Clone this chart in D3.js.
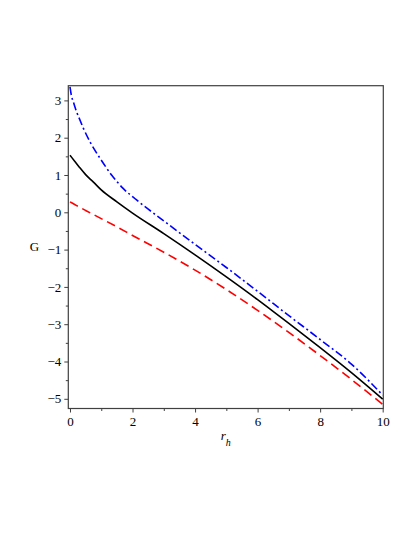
<!DOCTYPE html>
<html>
<head>
<meta charset="utf-8">
<script src="https://cdn.jsdelivr.net/npm/d3@7"></script>
<style>
  html, body { margin: 0; padding: 0; background: #fff; }
  svg { display: block; }
  text { font-family: "Liberation Serif", "Times New Roman", Times, serif; fill: #000; }
</style>
</head>
<body>
<svg id="chart" width="415" height="537"></svg>
<script>
// ---- data ----
const blueRh = [0, 0.05, 0.1, 0.2, 0.3, 0.43, 0.64, 0.96, 1.33, 1.7, 2.13, 3, 4, 5, 6, 7, 8, 9, 10];
const blueG  = [3.36, 3.11, 2.98, 2.72, 2.51, 2.25, 1.89, 1.45, 1.00, 0.64, 0.33, -0.23, -0.86, -1.48, -2.12, -2.77, -3.41, -4.07, -4.90];
const rh     = [0, 0.15, 0.3, 0.5, 0.75, 1, 1.5, 2, 3, 4, 5, 6, 7, 8, 9, 10];
const blackG = [1.53, 1.37, 1.21, 1.01, 0.81, 0.60, 0.28, -0.02, -0.57, -1.14, -1.73, -2.34, -2.98, -3.63, -4.30, -5.01];
const redG   = [0.28, 0.21, 0.14, 0.05, -0.06, -0.17, -0.39, -0.62, -1.07, -1.55, -2.07, -2.63, -3.22, -3.84, -4.48, -5.15];
const xMajor = [0, 2, 4, 6, 8, 10];
const xMinor = [1, 3, 5, 7, 9];
const yMajor = [-5, -4, -3, -2, -1, 0, 1, 2, 3];
const yMinor = [-4.5, -3.5, -2.5, -1.5, -0.5, 0.5, 1.5, 2.5];

const svg = d3.select("#chart");
const L = 68.3, R = 383.3, T = 85.7, B = 408.5;

const x = d3.scaleLinear().domain([-0.054, 10.02]).range([L, R]);
const y = d3.scaleLinear().domain([-5.26, 3.394]).range([B, T]);

const frameColor = "#404040";
const FONT = '"Liberation Serif", "Times New Roman", Times, serif';

// bottom axis
const gx = svg.append("g").attr("transform", `translate(0,${B})`)
  .call(d3.axisBottom(x).tickValues(xMajor).tickSize(4).tickPadding(4).tickFormat(d3.format("d")));
gx.attr("font-family", FONT);
gx.select(".domain").remove();
gx.selectAll(".tick line").attr("stroke", frameColor);
gx.selectAll(".tick text").attr("font-size", 13).attr("dy", "0.75em");

const gxm = svg.append("g").attr("transform", `translate(0,${B})`)
  .call(d3.axisBottom(x).tickValues(xMinor).tickSize(2.5).tickFormat(""));
gxm.select(".domain").remove();
gxm.selectAll(".tick line").attr("stroke", frameColor);

// left axis
const fmtY = d => (d < 0 ? "\u2212" + Math.abs(d) : String(d));
const gy = svg.append("g").attr("transform", `translate(${L},0)`)
  .call(d3.axisLeft(y).tickValues(yMajor).tickSize(4).tickPadding(3).tickFormat(fmtY));
gy.attr("font-family", FONT);
gy.select(".domain").remove();
gy.selectAll(".tick line").attr("stroke", frameColor);
gy.selectAll(".tick text").attr("font-size", 13);

const gym = svg.append("g").attr("transform", `translate(${L},0)`)
  .call(d3.axisLeft(y).tickValues(yMinor).tickSize(2.5).tickFormat(""));
gym.select(".domain").remove();
gym.selectAll(".tick line").attr("stroke", frameColor);

// frame
svg.append("rect")
  .attr("x", L).attr("y", T).attr("width", R - L).attr("height", B - T)
  .attr("fill", "none").attr("stroke", frameColor).attr("stroke-width", 1.2);

// curves
svg.append("clipPath").attr("id", "clip")
  .append("rect").attr("x", L).attr("y", T).attr("width", R - L).attr("height", B - T);

const line = d3.line().x(d => x(d[0])).y(d => y(d[1])).curve(d3.curveMonotoneX);
const series = [
  { xs: rh, vals: redG, color: "#ff0000", dash: "9,5" },
  { xs: rh, vals: blackG, color: "#000000", dash: null },
  { xs: blueRh, vals: blueG, color: "#0000ff", dash: "8,3,2,3" }
];
const gLines = svg.append("g").attr("clip-path", "url(#clip)");
series.forEach(s => {
  const p = gLines.append("path")
    .datum(s.xs.map((v, i) => [v, s.vals[i]]))
    .attr("d", line)
    .attr("fill", "none")
    .attr("stroke", s.color)
    .attr("stroke-width", 1.6);
  if (s.dash) p.attr("stroke-dasharray", s.dash);
});

// axis labels
svg.append("text").attr("x", 34.5).attr("y", 251).attr("text-anchor", "middle")
  .attr("font-size", 13).text("G");

const lab = svg.append("text").attr("x", (L + R) / 2).attr("y", 440)
  .attr("text-anchor", "middle").attr("font-size", 13).attr("font-style", "italic");
lab.append("tspan").text("r");
lab.append("tspan").attr("font-size", 10).attr("dy", 6).text("h");
</script>
</body>
</html>
